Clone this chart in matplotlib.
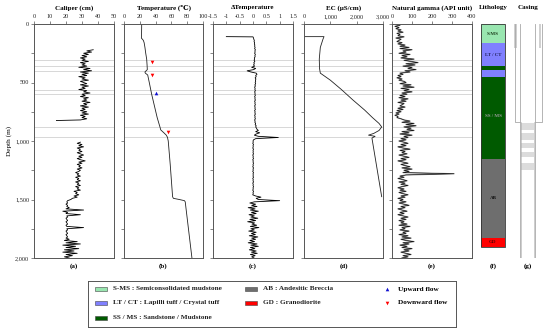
import numpy as np
import matplotlib
matplotlib.use("Agg")
import matplotlib.pyplot as plt
from matplotlib.patches import Rectangle

# ---------------- data ----------------
flow_lines = [310, 355, 400, 565, 600, 880, 965]

# Caliper (cm)
cal_up_depth = list(range(220, 830, 10)) + [825]
cal_up = [37, 33, 36, 31, 34, 30, 33, 29,
          32, 30, 34, 29, 32, 30, 33, 28, 35, 31,
          36, 29, 34, 30, 33, 28, 32, 30, 34, 29,
          31, 33, 29, 34, 30, 32, 28, 33, 31, 35,
          30, 32, 29, 34, 31, 33, 30, 35, 31, 33,
          29, 34, 30, 32, 29, 33, 30, 34, 29, 32,
          30, 33, 29, 14]
cal_lo_depth = list(range(1010, 2010, 10))
cal_lo = [29, 27, 30, 28, 31, 27, 29, 28, 30,
          27, 29, 31, 28, 30, 27, 29, 32, 28, 30,
          27, 29, 28, 30, 27, 29, 28, 26, 28, 27,
          29, 26, 28, 27, 29, 26, 28, 27, 29, 26,
          28, 27, 29, 25, 27, 26, 28, 25, 27, 24,
          23, 21, 20.5, 21, 20, 21, 20.5, 22, 20, 31,
          18, 21, 20, 29, 20.5, 21, 20, 20.5, 21, 20,
          20.5, 21, 20, 20.5, 31, 20.5, 21, 20, 20.5, 21,
          20, 20.5, 21, 20, 22, 19, 27, 20, 29, 18,
          26, 20, 28, 19, 25, 18, 27, 20, 24, 19, 22]

# Temperature (degC)
temp_depth = [0, 100, 120, 140, 160, 200, 250, 300, 350, 390, 400, 410, 420, 436,
              500, 600, 700, 800, 880, 905, 930, 950, 968, 1000, 1200, 1476, 1490,
              1500, 1510, 1520, 2000]
temp = [22.4, 22.2, 22.0, 24.5, 25.5, 26.5, 27.5, 28.7, 29.2, 29.5, 28.0, 26.5, 27.0, 30.0,
        32.0, 35.0, 38.5, 42.0, 45.5, 46.5, 50.5, 53.5, 55.0, 56.0, 58.5, 61.5, 62.5,
        70.0, 76.5, 77.5, 86.0]
down_depth = [325, 433, 920]
down_temp = [36, 36, 56]
up_depth = [592]
up_temp = [41]

# Delta temperature
dt_depth = [108] + list(range(110, 1540, 10)) + list(range(1540, 2010, 10))
dt = ([-1.0] +
      [0.00, 0.02, 0.03, 0.05, 0.04, 0.06, 0.05, 0.07, 0.06,
       0.08, 0.06, 0.09, 0.07, 0.08, 0.06, 0.09, 0.07, 0.08, 0.05,
       0.06, 0.04, 0.07, 0.03, 0.05, 0.02, 0.06, -0.05, 0.10, 0.02,
       -0.22, -0.08, 0.12, 0.15, 0.10, 0.12, 0.08, 0.11, 0.09, 0.10,
       0.08, 0.10, 0.07, 0.09, 0.06, 0.08, 0.07, 0.09, 0.06, 0.08,
       0.07, 0.09, 0.06, 0.08, 0.07, 0.09, 0.06, 0.08, 0.07, 0.09,
       0.06, 0.08, 0.07, 0.09, 0.06, 0.08, 0.07, 0.09, 0.06, 0.08,
       0.07, 0.09, 0.06, 0.08, 0.07, 0.10, 0.08, 0.12, 0.10, 0.13,
       0.15, 0.20, 0.10, 0.25, 0.12, 0.05, 0.20, 0.95, 0.10, 0.02,
       0.00, 0.01, -0.01, 0.02, 0.00, 0.01, -0.01, 0.02, 0.00, 0.01,
       0.00, 0.02, -0.01, 0.01, 0.00, 0.02, -0.01, 0.01, 0.00, 0.02,
       0.00, 0.01, -0.01, 0.02, 0.00, 0.01, -0.01, 0.02, 0.00, 0.01,
       0.00, 0.02, -0.01, 0.01, 0.00, 0.02, -0.01, 0.01, 0.00, 0.02,
       0.00, 0.01, -0.01, 0.02, 0.00, 0.01, -0.01, 0.10, 0.30, 0.12,
       0.20, 1.00, 0.05] +
      [-0.12, 0.10, -0.05, 0.15, -0.18, 0.08, -0.10, 0.20, -0.06, 0.12,
       -0.15, 0.05, -0.08, 0.18, -0.12, 0.10, -0.20, 0.06, -0.04, 0.14,
       -0.10, 0.22, -0.08, 0.05, -0.16, 0.12, -0.06, 0.09, -0.14, 0.18,
       -0.05, 0.10, -0.12, 0.06, -0.18, 0.15, -0.08, 0.20, -0.10, 0.07,
       -0.14, 0.12, -0.06, 0.16, -0.10, 0.08, -0.05, 0.04])

# EC (uS/cm)
ec_depth = [108, 108, 130, 200, 300, 380, 420, 480, 560, 650, 735, 800, 850, 880,
            910, 935, 950, 960, 975, 1476]
ec = [0, 760, 720, 620, 580, 590, 620, 1000, 1420, 1860, 2300, 2600, 2850, 2950,
      2850, 2650, 2450, 2700, 2580, 2950]

# Natural gamma (API)
gam_depth = list(range(0, 2010, 10))
gam = [25, 40, 15, 35, 20, 45, 30, 55, 25, 40,
       30, 60, 20, 45, 35, 25, 50, 30, 65, 40,
       85, 40, 100, 55, 70, 35, 90, 50, 75, 45,
       110, 60, 95, 130, 70, 115, 55, 100, 80, 120,
       65, 90, 40, 55, 30, 45, 25, 50, 35, 60,
       70, 40, 95, 55, 110, 45, 85, 60, 100, 50,
       75, 40, 65, 35, 80, 45, 70, 30, 60, 50,
       40, 65, 30, 55, 25, 45, 20, 35, 15, 30,
       25, 45, 60, 90, 50, 110, 70, 120, 60, 95,
       75, 110, 50, 85, 40, 100, 60, 80, 45, 70,
       35, 60, 80, 45, 70, 30, 55, 90, 40, 65,
       50, 75, 35, 60, 85, 45, 70, 30, 55, 80,
       45, 65, 90, 50, 100, 60, 85, 55, 310, 70,
       40, 60, 30, 55, 75, 35, 65, 45, 80, 50,
       30, 60, 40, 70, 35, 55, 80, 45, 65, 30,
       55, 40, 70, 35, 60, 85, 45, 65, 30, 50,
       75, 40, 60, 30, 55, 80, 45, 70, 35, 60,
       45, 75, 35, 90, 50, 65, 40, 85, 55, 70,
       35, 80, 50, 95, 45, 70, 110, 55, 85, 40,
       75, 50, 100, 60, 85, 45, 70, 95, 55, 80,
       50]

# Lithology
litho_top = [0, 165, 360, 395, 450, 1155, 1825]
litho_bot = [165, 360, 395, 450, 1155, 1825, 1910]
litho_col = ['#99e6b0', '#8080ff', '#005a00', '#8080ff', '#005a00', '#6e6e6e', '#ff0000']
litho_lab = ['S-MS', 'LT / CT', '', '', 'SS / MS', 'AB', 'GD']
litho_lab_col = ['#1a3a1a', '#20205a', 'w', 'w', '#9a9a9a', '#111111', '#5a0000']

# Casing
outer_bottom = 835
cement_bottom = 205
screen_top = [849, 934, 1020, 1091, 1191]
screen_bot = [906, 991, 1062, 1134, 1248]

legend_entries = [('S-MS : Semiconsolidated mudstone', '#99e6b0'),
                  ('LT / CT : Lapilli tuff / Crystal tuff', '#8080ff'),
                  ('SS / MS : Sandstone / Mudstone', '#005a00'),
                  ('AB : Andesitic Breccia', '#6e6e6e'),
                  ('GD : Granodiorite', '#ff0000')]

# ---------------- layout ----------------
W, H = 550, 335
fig = plt.figure(figsize=(5.5, 3.35), dpi=100)
SERIF = ['Liberation Serif', 'DejaVu Serif']
plt.rcParams['font.family'] = SERIF
TITLE_FS = 5.0

def rect(l, r, t=24, b=258):
    return [l / W, 1 - b / H, (r - l) / W, (b - t) / H]

spine_col = '#555555'
def style(ax, xlim, xticks, xlabels, title, panel, ylab=False):
    ax.set_xlim(*xlim)
    ax.set_ylim(2000, 0)
    ax.xaxis.tick_top()
    ax.set_xticks(xticks)
    ax.set_xticklabels(xlabels, fontsize=4.5)
    ax.set_yticks([0, 500, 1000, 1500, 2000])
    ax.set_yticks([250, 750, 1250, 1750], minor=True)
    if ylab:
        ax.set_yticklabels(['0', '500', '1,000', '1,500', '2,000'], fontsize=4.5)
    else:
        ax.set_yticklabels([])
    ax.tick_params(axis='both', which='both', length=2, width=0.5, pad=1.5, colors=spine_col,
                   labelcolor='#222222')
    for s in ax.spines.values():
        s.set_linewidth(0.7)
        s.set_color(spine_col)
    for d in flow_lines:
        ax.axhline(d, color='#c8c8c8', lw=0.5, zorder=0)
    c = ax.get_position()
    fig.text(c.x0 + c.width / 2, 1 - 8 / H, title, ha='center', va='center',
             fontsize=TITLE_FS, fontweight='bold')
    fig.text(c.x0 + c.width / 2, 1 - 266 / H, panel, ha='center', va='center',
             fontsize=5.0, fontweight='bold')

# (a) caliper
ax = fig.add_axes(rect(34, 114))
ax.plot(cal_up, cal_up_depth, color='k', lw=0.6)
ax.plot(cal_lo, cal_lo_depth, color='k', lw=0.6)
style(ax, (0, 50), [0, 10, 20, 30, 40, 50], ['0', '10', '20', '30', '40', '50'],
      'Caliper (cm)', '(a)', ylab=True)
ax.set_ylabel('Depth (m)', fontsize=5.2, labelpad=2)

# (b) temperature
ax = fig.add_axes(rect(124, 203))
ax.plot(temp, temp_depth, color='#222222', lw=0.6)
ax.plot(down_temp, down_depth, 'v', color='red', ms=2.6, mew=0)
ax.plot(up_temp, up_depth, '^', color='#1010d0', ms=2.6, mew=0)
style(ax, (0, 100), [0, 20, 40, 60, 80, 100], ['0', '20', '40', '60', '80', '100'],
      'Temperature (\u2103)', '(b)')

# (c) delta temperature
ax = fig.add_axes(rect(213, 293))
ax.plot(dt, dt_depth, color='k', lw=0.6)
style(ax, (-1.5, 1.5), [-1.5, -1, -0.5, 0, 0.5, 1, 1.5],
      ['-1.5', '-1', '-0.5', '0', '0.5', '1', '1.5'], '\u0394Temperature', '(c)')

# (d) EC
ax = fig.add_axes(rect(304, 383))
ax.plot(ec, ec_depth, color='#222222', lw=0.6)
style(ax, (0, 3000), [0, 1000, 2000, 3000], ['0', '1,000', '2,000', '3,000'],
      'EC (\u03bcS/cm)', '(d)')

# (e) gamma
ax = fig.add_axes(rect(392, 472))
ax.plot(gam, gam_depth, color='#888888', lw=0.9)
ax.plot(gam, gam_depth, color='k', lw=0.35)
style(ax, (0, 400), [0, 100, 200, 300, 400], ['0', '100', '200', '300', '400'],
      'Natural gamma (API unit)', '(e)')

# (f) lithology
ax = fig.add_axes(rect(479, 507))
ax.set_xlim(0, 1)
ax.set_ylim(2000, 0)
ax.axis('off')
for t, b, c, lab, lc in zip(litho_top, litho_bot, litho_col, litho_lab, litho_lab_col):
    ax.bar(0.5, b - t, bottom=t, width=24 / 28, color=c, edgecolor='none')
    if lab:
        ax.text(0.5, (t + b) / 2 if lab != 'SS / MS' else 790, lab, ha='center', va='center',
                fontsize=3.6, fontweight='bold', color=lc)
ax.add_patch(Rectangle((0.5 - 12 / 28, 0), 24 / 28, litho_bot[-1], fill=False,
                       edgecolor='#333333', lw=0.6))
fig.text(493 / W, 1 - 8 / H, 'Lithology', ha='center', va='center', fontsize=TITLE_FS,
         fontweight='bold')
fig.text(493 / W, 1 - 266 / H, '(f)', ha='center', va='center', fontsize=5.0,
         fontweight='bold')

# (g) casing
ax = fig.add_axes(rect(512, 545))
ax.set_xlim(512, 545)
ax.set_ylim(2000, 0)
ax.axis('off')
gl = '#a8a8a8'
ax.add_patch(Rectangle((514.2, 0), 2.6, cement_bottom, color='#d0d0d0', lw=0))
ax.add_patch(Rectangle((538.8, 0), 2.6, cement_bottom, color='#d0d0d0', lw=0))
ax.plot([514.5, 514.5, 520], [0, outer_bottom, outer_bottom], color=gl, lw=0.6)
ax.plot([541.5, 541.5, 534.5], [0, outer_bottom, outer_bottom], color=gl, lw=0.6)
ax.plot([519.5, 519.5], [0, 2000], color=gl, lw=0.6)
ax.plot([535, 535], [0, 2000], color=gl, lw=0.6)
ax.plot([520.5, 520.5], [outer_bottom, 2000], color=gl, lw=0.4)
ax.plot([534, 534], [outer_bottom, 2000], color=gl, lw=0.4)
for t, b in zip(screen_top, screen_bot):
    ax.add_patch(Rectangle((520.5, t), 13.5, b - t, color='#dcdcdc', lw=0))
fig.text(528 / W, 1 - 8 / H, 'Casing', ha='center', va='center', fontsize=TITLE_FS,
         fontweight='bold')
fig.text(528 / W, 1 - 266 / H, '(g)', ha='center', va='center', fontsize=5.0,
         fontweight='bold')

# legend box
lg = fig.add_axes([88 / W, 1 - 327 / H, (456 - 88) / W, (327 - 281) / H])
lg.set_xlim(88, 456)
lg.set_ylim(327, 281)
lg.set_xticks([])
lg.set_yticks([])
for s in lg.spines.values():
    s.set_linewidth(0.7)
    s.set_color('#555555')
rows = [289, 302.5, 317.5]
pos = [(95, rows[0]), (95, rows[1]), (95, rows[2]), (245, rows[0]), (245, rows[1])]
for (x, y), (lab, c) in zip(pos, legend_entries):
    lg.add_patch(Rectangle((x, y - 2), 12, 4, facecolor=c, edgecolor='#444444', lw=0.4))
    lg.text(x + 18, y, lab, fontsize=5.2, fontweight='bold', va='center', ha='left',
            color='#222222')
lg.plot([386.7], [rows[0]], '^', color='#1010d0', ms=2.6, mew=0)
lg.text(397.7, rows[0], 'Upward flow', fontsize=5.2, fontweight='bold', va='center')
lg.plot([386.7], [rows[1]], 'v', color='red', ms=2.6, mew=0)
lg.text(397.7, rows[1], 'Downward flow', fontsize=5.2, fontweight='bold', va='center')

fig.savefig('out.png', dpi=100)
